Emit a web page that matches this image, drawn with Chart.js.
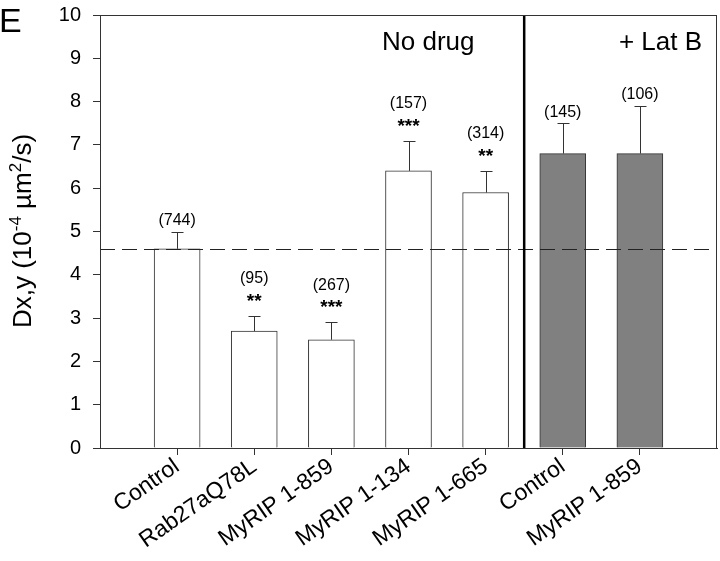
<!DOCTYPE html>
<html>
<head>
<meta charset="utf-8">
<script src="https://cdn.jsdelivr.net/npm/chart.js@4"></script>
<style>
  body { margin: 0; background: #fff; }
  #wrap { width: 720px; height: 561px; }
</style>
</head>
<body>
<div id="wrap"><canvas id="chart"></canvas></div>
<script>
// Mobility of granules, Dx,y per condition (empty slots at both ends keep the spacing)
const categories = ['', 'Control', 'Rab27aQ78L', 'MyRIP 1-859', 'MyRIP 1-134', 'MyRIP 1-665', 'Control', 'MyRIP 1-859', ''];
const means = [null, 4.6, 2.7, 2.5, 6.4, 5.9, 6.8, 6.8, null];
const errors = [null, 0.4, 0.36, 0.4, 0.7, 0.5, 0.7, 1.1, null];
const cellCounts = ['', '(744)', '(95)', '(267)', '(157)', '(314)', '(145)', '(106)', ''];
const stars = ['', '', '**', '***', '***', '**', '', '', ''];
const latB = [false, false, false, false, false, false, true, true, false];
const controlLevel = 4.6;
const groupLabels = ['No drug', '+ Lat B'];

const FONT = "'Liberation Sans', Arial, Helvetica, sans-serif";
Chart.defaults.font.family = FONT;
Chart.defaults.color = '#000';

const axisColor = '#333';

// Draws error bars, reference line, divider, frame and all annotation text
const annotatePlugin = {
    id: 'annotate',
    afterDatasetsDraw(chart) {
        const ctx = chart.ctx;
        const x = chart.scales.x;
        const y = chart.scales.y;
        const area = chart.chartArea;

        ctx.save();

        // error bars (upper only)
        ctx.strokeStyle = '#333';
        ctx.lineWidth = 1;
        means.forEach((m, i) => {
            if (m === null) return;
            const px = Math.round(x.getPixelForValue(i)) + 0.5;
            const y0 = y.getPixelForValue(m);
            const y1 = Math.round(y.getPixelForValue(m + errors[i])) + 0.5;
            ctx.beginPath();
            ctx.moveTo(px, y0);
            ctx.lineTo(px, y1);
            ctx.moveTo(px - 6, y1);
            ctx.lineTo(px + 6, y1);
            ctx.stroke();
        });

        // dashed control level
        const yc = Math.round(y.getPixelForValue(controlLevel)) + 0.5;
        ctx.setLineDash([15, 7]);
        ctx.strokeStyle = '#222';
        ctx.beginPath();
        ctx.moveTo(area.left, yc);
        ctx.lineTo(area.right, yc);
        ctx.stroke();
        ctx.setLineDash([]);

        // divider between no drug and Lat B
        const xd = (x.getPixelForValue(5) + x.getPixelForValue(6)) / 2;
        ctx.strokeStyle = '#000';
        ctx.lineWidth = 2.5;
        ctx.beginPath();
        ctx.moveTo(xd, area.top);
        ctx.lineTo(xd, area.bottom);
        ctx.stroke();

        // frame
        ctx.lineWidth = 1;
        ctx.strokeStyle = axisColor;
        ctx.strokeRect(area.left + 0.5, area.top + 0.5, area.right - area.left - 1, area.bottom - area.top);

        // n counts and significance stars
        ctx.fillStyle = '#000';
        ctx.textAlign = 'center';
        means.forEach((m, i) => {
            if (m === null) return;
            const px = x.getPixelForValue(i);
            const top = y.getPixelForValue(m + errors[i]);
            let countY = top - 11;
            if (stars[i]) {
                ctx.font = 'bold 19px ' + FONT;
                ctx.textBaseline = 'alphabetic';
                ctx.fillText(stars[i], px, top - 9);
                countY = top - 37;
            }
            ctx.font = '16px ' + FONT;
            ctx.textBaseline = 'middle';
            ctx.fillText(cellCounts[i], px, countY);
        });

        // group labels
        ctx.font = '26px ' + FONT;
        ctx.textBaseline = 'alphabetic';
        ctx.textAlign = 'left';
        ctx.fillText(groupLabels[0], 382, 50);
        ctx.textAlign = 'right';
        ctx.fillText(groupLabels[1], 702, 50);

        // panel letter
        ctx.font = '34px ' + FONT;
        ctx.textAlign = 'left';
        ctx.fillText('E', -1, 32);

        // y axis title with superscripts
        ctx.translate(31, 231);
        ctx.rotate(-Math.PI / 2);
        const parts = [
            { t: 'Dx,y (10', f: '26px ' + FONT, dy: 0 },
            { t: '-4', f: '17px ' + FONT, dy: -10 },
            { t: ' \u00b5m', f: '26px ' + FONT, dy: 0 },
            { t: '2', f: '17px ' + FONT, dy: -10 },
            { t: '/s)', f: '26px ' + FONT, dy: 0 }
        ];
        let total = 0;
        parts.forEach(p => { ctx.font = p.f; total += ctx.measureText(p.t).width; });
        let cx = -total / 2;
        ctx.textAlign = 'left';
        parts.forEach(p => {
            ctx.font = p.f;
            ctx.fillText(p.t, cx, p.dy);
            cx += ctx.measureText(p.t).width;
        });

        ctx.restore();
    }
};

new Chart(document.getElementById('chart'), {
    type: 'bar',
    data: {
        labels: categories,
        datasets: [{
            data: means,
            backgroundColor: latB.map(v => v ? '#808080' : '#ffffff'),
            borderColor: '#333',
            borderWidth: 1,
            barThickness: 46
        }]
    },
    options: {
        responsive: true,
        maintainAspectRatio: false,
        animation: false,
        layout: { padding: { left: 0, top: 15, right: 3, bottom: 0 } },
        plugins: {
            legend: { display: false },
            tooltip: { enabled: false }
        },
        scales: {
            x: {
                offset: false,
                afterFit(scale) {
                    scale.height = 113;
                    scale.paddingLeft = 0;
                    scale.paddingRight = 0;
                },
                grid: {
                    offset: false,
                    drawOnChartArea: false,
                    tickLength: 7,
                    tickColor: c => (c.index === 0 || c.index === categories.length - 1) ? 'rgba(0,0,0,0)' : axisColor
                },
                border: { color: axisColor },
                ticks: {
                    autoSkip: false,
                    minRotation: 35,
                    maxRotation: 35,
                    padding: -2,
                    color: '#000',
                    font: { size: 23 }
                }
            },
            y: {
                min: 0,
                max: 10,
                afterFit(scale) {
                    scale.width = 100;
                    scale.paddingTop = 0;
                    scale.paddingBottom = 0;
                },
                grid: {
                    drawOnChartArea: false,
                    tickLength: 7,
                    tickColor: axisColor
                },
                border: { color: axisColor },
                ticks: {
                    stepSize: 1,
                    padding: 12,
                    color: '#000',
                    font: { size: 20 }
                }
            }
        }
    },
    plugins: [annotatePlugin]
});
</script>
</body>
</html>
